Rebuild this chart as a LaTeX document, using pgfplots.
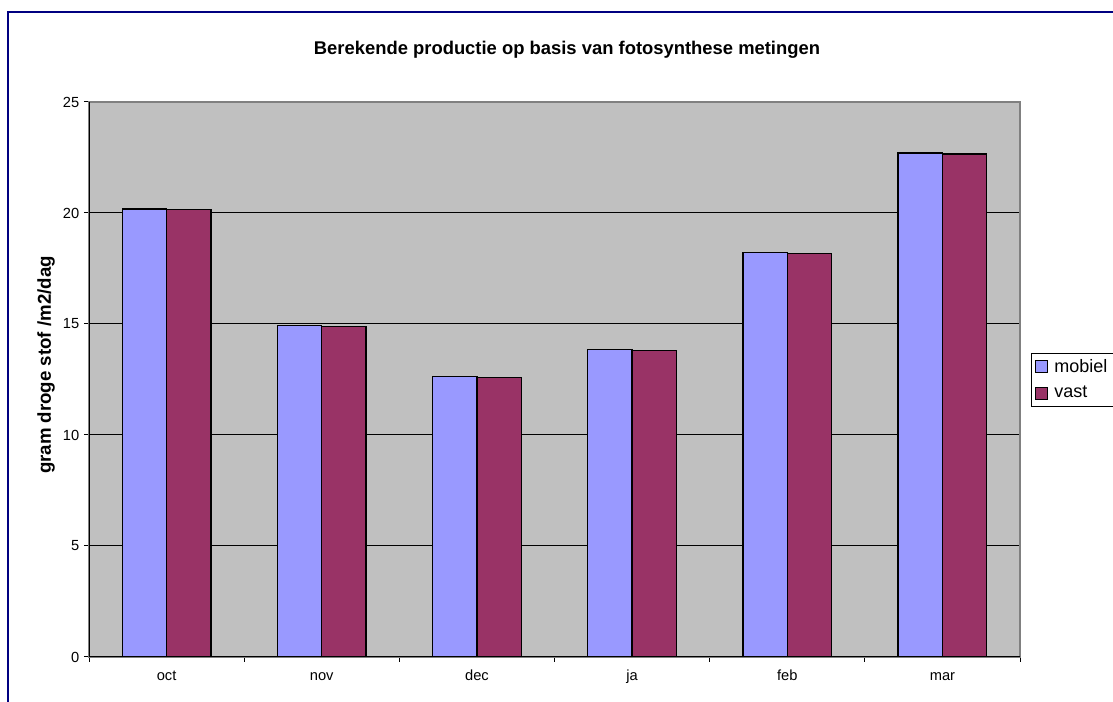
\documentclass[border=0pt]{standalone}
\usepackage{pgfplots}
\pgfplotsset{compat=1.18}
\usepackage{fontspec}
\setmainfont{Liberation Sans}
\definecolor{plotbg}{HTML}{C0C0C0}
\definecolor{mobielc}{HTML}{9999FF}
\definecolor{vastc}{HTML}{993366}
\definecolor{framec}{HTML}{000080}
\definecolor{bordergray}{HTML}{808080}

\begin{document}
\begin{tikzpicture}
\useasboundingbox (0,0) rectangle (834.75pt,526.5pt);
\draw[framec, line width=1.2pt] (6pt,-5pt) -- (6pt,517.5pt) -- (840pt,517.5pt);
\begin{axis}[
  at={(66.75pt,33.75pt)}, anchor=south west,
  scale only axis, width=698.25pt, height=416.25pt,
  xmin=-0.5, xmax=5.5, ymin=0, ymax=25,
  axis background/.style={fill=plotbg},
  axis line style={draw=bordergray, line width=0.8pt},
  ybar, bar width=33.26pt,
  xtick={-0.5,0.5,1.5,2.5,3.5,4.5,5.5}, xticklabels={},
  extra x ticks={0,1,2,3,4,5},
  extra x tick labels={oct,nov,dec,ja,feb,mar},
  extra x tick style={major tick length=0pt, grid=none},
  ytick={0,5,10,15,20,25},
  tick align=outside, tick pos=left, major tick length=3.75pt,
  tick style={black, line width=0.75pt},
  ymajorgrids, grid style={black, line width=0.75pt},
  /pgf/number format/assume math mode=true,
  tick label style={font=\fontsize{11}{13}\selectfont},
  xticklabel style={anchor=north, text height=8pt, text depth=2.5pt, yshift=-6pt},
  legend style={at={(1.0118,0.5477)}, anchor=north west, draw=black, fill=white,
    font=\fontsize{13.5}{15}\selectfont, inner sep=2.5pt, row sep=5pt,
    /tikz/every odd column/.append style={column sep=3pt},
    /tikz/every even column/.append style={column sep=2pt}},
  legend cell align=left,
]
\addplot[fill=mobielc, draw=black, line width=0.9pt, bar shift=-16.63pt,
  legend image code/.code={\draw[fill=mobielc,draw=black,line width=0.8pt] (0pt,-4.5pt) rectangle (9pt,4.5pt);}]
  coordinates {(0,20.18) (1,14.93) (2,12.64) (3,13.84) (4,18.21) (5,22.70)};
\addplot[fill=vastc, draw=black, line width=0.9pt, bar shift=16.63pt,
  legend image code/.code={\draw[fill=vastc,draw=black,line width=0.8pt] (0pt,-4.5pt) rectangle (9pt,4.5pt);}]
  coordinates {(0,20.14) (1,14.88) (2,12.60) (3,13.80) (4,18.17) (5,22.66)};
\legend{mobiel,vast}
\draw[black, line width=0.8pt] (rel axis cs:0,1) -- (rel axis cs:0,0) -- (rel axis cs:1,0);
\end{axis}
\node[font=\bfseries\fontsize{13.8}{16}\selectfont] at (425.25pt,489pt) {Berekende productie op basis van fotosynthese metingen};
\node[rotate=90, font=\bfseries\fontsize{14}{16}\selectfont] at (34.5pt,252.75pt) {gram droge stof /m2/dag};
\end{tikzpicture}
\end{document}
